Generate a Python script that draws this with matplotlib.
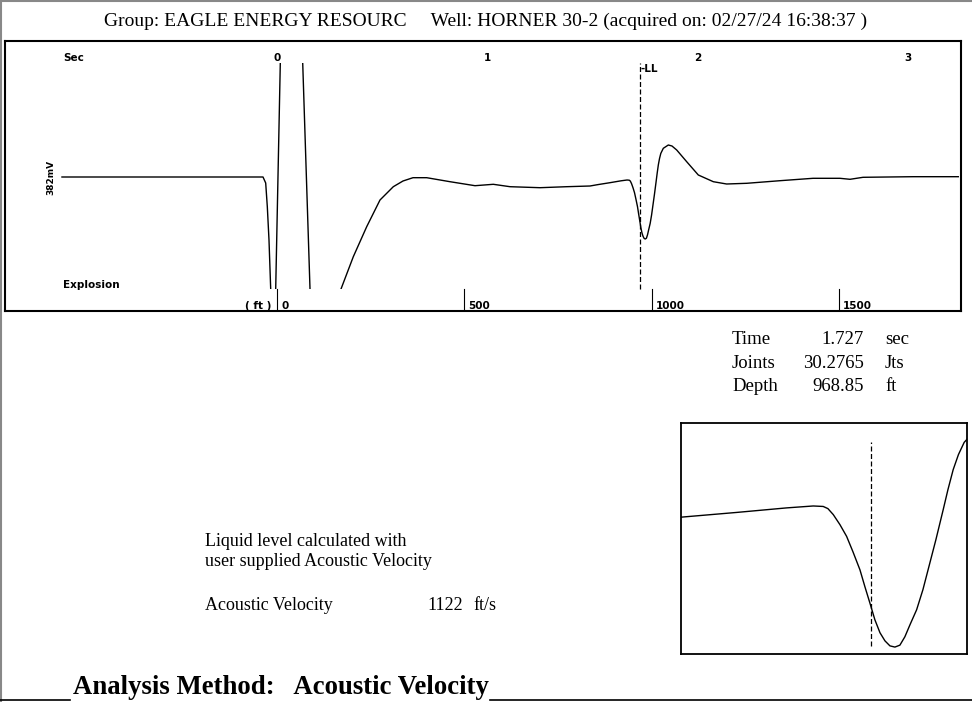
import matplotlib
matplotlib.use("Agg")
import matplotlib.pyplot as plt
from matplotlib.patches import Rectangle
from matplotlib.lines import Line2D

plt.rcParams['font.family'] = ['Liberation Serif', 'DejaVu Serif']

# acoustic trace: time in seconds, amplitude in relative units (0 = baseline)
t_sec = [-1.023, -0.0666, -0.0538, -0.0461, -0.0381, -0.0300, -0.0224, -0.0143,
         -0.0062, 0.0157, 0.0238, 0.0666, 0.1094, 0.1223, 0.1570, 0.1713, 0.2284,
         0.2807, 0.3045, 0.363, 0.4267, 0.49, 0.5533, 0.5994, 0.647, 0.7122, 0.823,
         0.942, 1.029, 1.1085, 1.2512, 1.3782, 1.489, 1.527, 1.5838, 1.637, 1.6653,
         1.6759, 1.6809, 1.6866, 1.6937, 1.7008, 1.7075, 1.715, 1.7203, 1.7256,
         1.7309, 1.7363, 1.7416, 1.7469, 1.7522, 1.7575, 1.7628, 1.7682, 1.7753,
         1.7820, 1.7894, 1.7958, 1.8036, 1.8086, 1.8142, 1.8198, 1.8259, 1.8378,
         1.8616, 1.879, 1.9015, 1.949, 2.0043, 2.0757, 2.139, 2.2345, 2.393, 2.55,
         2.678, 2.726, 2.788, 3.026, 3.241]
amp = [0, 0, -6, -29.7, -63, -112, -158, -178,
       -112, 114, 197, 267, 197, 114, -112, -203, -253,
       -183, -112, -79.7, -49.7, -23, -9.7, -4, -0.7, -0.7, -4.7,
       -8.7, -7.3, -9.7, -10.7, -9.7, -9, -7.6, -5.7, -3.8, -3.0,
       -3.2, -4.1, -6.6, -10.8, -15.7, -22.1, -29.7, -36.8, -43.6,
       -50.6, -56.0, -59.4, -61.5, -62.0, -61.2, -57.7, -52.7, -46.4,
       -38.0, -26.8, -17.1, -4.5, 3.8, 12.2, 18.5, 23.6, 28.7,
       32, 31, 27, 15.3, 2, -4.7, -7, -6.3, -3.7, -1.3,
       -1.3, -2.3, -0.3, 0.3, 0.3]

time_ticks = [0, 1, 2, 3]
depth_ticks = [0, 500, 1000, 1500]
velocity = 1122      # ft/s
ll_time = 1.727      # sec
joints = 30.2765
depth = 968.85

W, H = 972, 702
def fx(px):
    return px / W
def fy(py):
    return 1 - py / H

fig = plt.figure(figsize=(9.72, 7.02), dpi=100)

# outer page frame
fig.add_artist(Line2D([0, 1], [fy(1), fy(1)], color='#888888', lw=1.5))
fig.add_artist(Line2D([fx(1), fx(1)], [fy(0), fy(702)], color='#888888', lw=1.5))
fig.add_artist(Line2D([0, fx(70)], [fy(700), fy(700)], color='black', lw=1.2))
fig.add_artist(Line2D([fx(490), 1], [fy(700), fy(700)], color='black', lw=1.2))

fig.text(0.5, fy(21), 'Group: EAGLE ENERGY RESOURC     Well: HORNER 30-2 (acquired on: 02/27/24 16:38:37 )',
         ha='center', va='center', fontsize=14)

# main trace panel
ax = fig.add_axes([fx(5), fy(311), fx(961) - fx(5), fy(41) - fy(311)])
ax.set_xlim(-1.294, 3.254)
ax.set_ylim(-134, 136)
ax.set_xticks([])
ax.set_yticks([])
for s in ax.spines.values():
    s.set_linewidth(1.5)

line, = ax.plot(t_sec, amp, color='black', lw=1.0)
clip = Rectangle((-1.3, -112), 5, 226, transform=ax.transData)
line.set_clip_path(clip)

sans = dict(family=['DejaVu Sans'], fontweight='bold', fontsize=7.5)
ax.text(-1.018, 119, 'Sec', ha='left', va='center', **sans)
for t in time_ticks:
    ax.text(t, 119, str(t), ha='center', va='center', **sans)
ax.text(-1.018, -108, 'Explosion', ha='left', va='center', **sans)

# depth scale from the acoustic velocity
for d in depth_ticks:
    td = 2 * d / velocity
    ax.plot([td, td], [-112, -134], color='black', lw=0.8)
    ax.annotate(str(d), (td, -129), xytext=(3, 0), textcoords='offset points',
                ha='left', va='center', **sans)
ax.annotate('( ft )', (0, -129), xytext=(-4, 0), textcoords='offset points',
            ha='right', va='center', **sans)

ax.plot([ll_time, ll_time], [-112, 114], color='black', lw=0.9, dashes=(4, 2))
ax.text(ll_time, 108, '-LL', ha='left', va='center', **sans)

fig.text(fx(51), fy(177), '382mV', rotation=90, ha='center', va='center',
         family=['DejaVu Sans'], fontweight='bold', fontsize=6.5)

# result block
rows = [('Time', f'{ll_time:.3f}', 'sec'), ('Joints', f'{joints}', 'Jts'), ('Depth', f'{depth}', 'ft')]
for i, (lab, val, unit) in enumerate(rows):
    y = fy(340 + 23.3 * i)
    fig.text(fx(732), y, lab, ha='left', va='center', fontsize=13.5)
    fig.text(fx(864), y, val, ha='right', va='center', fontsize=13.5)
    fig.text(fx(885), y, unit, ha='left', va='center', fontsize=13.5)

fig.text(fx(205), fy(541), 'Liquid level calculated with', ha='left', va='center', fontsize=13)
fig.text(fx(205), fy(562), 'user supplied Acoustic Velocity', ha='left', va='center', fontsize=13)
fig.text(fx(205), fy(606), 'Acoustic Velocity', ha='left', va='center', fontsize=13)
fig.text(fx(463), fy(606), str(velocity), ha='right', va='center', fontsize=13)
fig.text(fx(473), fy(606), 'ft/s', ha='left', va='center', fontsize=13)

# zoomed view around the liquid level
axi = fig.add_axes([fx(681), fy(654), fx(967) - fx(681), fy(423) - fy(654)])
axi.set_xlim(1.5246, 1.8289)
axi.set_ylim(-64.9, 31.7)
axi.set_xticks([])
axi.set_yticks([])
for s in axi.spines.values():
    s.set_linewidth(1.3)
axi.plot(t_sec, amp, color='black', lw=1.0)
axi.plot([ll_time, ll_time], [-61.7, 23.8], color='black', lw=0.9, dashes=(4, 2))

fig.text(fx(73), fy(688), 'Analysis Method:   Acoustic Velocity', ha='left', va='center',
         fontsize=19.3, fontweight='bold')

fig.savefig('out.png', dpi=100)
